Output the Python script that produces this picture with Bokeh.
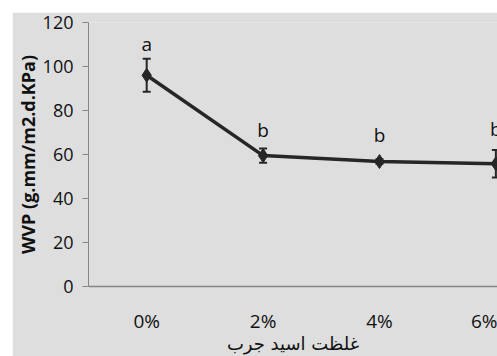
from bokeh.plotting import figure
from bokeh.models import ColumnDataSource, Whisker, FixedTicker, Spacer, TeeHead
from bokeh.layouts import column, row
from bokeh.embed import file_html
from bokeh.resources import INLINE
from bokeh.core.properties import value

categories = ["0%", "2%", "4%", "6%"]
wvp = [96.0, 59.5, 56.8, 55.8]
err = [7.5, 3.2, 1.0, 6.2]
letters = ["a", "b", "b", "b"]
y_ticks = [0, 20, 40, 60, 80, 100, 120]
y_label = "WVP (g.mm/m2.d.KPa)"
x_label = "غلظت اسید جرب"

BG = "#dedede"
AX = "#868686"
DARK = "#262626"

xs = [i + 0.5 for i in range(len(categories))]
src = ColumnDataSource(dict(
    x=xs, y=wvp,
    upper=[v + e for v, e in zip(wvp, err)],
    lower=[v - e for v, e in zip(wvp, err)],
    txt=letters,
    yoff=[-15, -19, -24, -21],
))

p = figure(width=485, height=344, x_range=(0, 3.514), y_range=(0, 120),
           output_backend="svg", toolbar_location=None,
           min_border_left=75, min_border_top=10, min_border_bottom=70,
           min_border_right=0)
p.background_fill_color = BG
p.border_fill_color = BG
p.outline_line_color = None
p.grid.visible = False

# y axis
p.yaxis.ticker = FixedTicker(ticks=y_ticks)
p.yaxis.axis_line_color = AX
p.yaxis.major_tick_line_color = AX
p.yaxis.minor_tick_line_color = None
p.yaxis.major_tick_out = 6
p.yaxis.major_tick_in = 0
p.yaxis.major_label_standoff = 9
p.yaxis.major_label_text_font = "Open Sans"
p.yaxis.major_label_text_font_size = "18px"
p.yaxis.major_label_text_color = "#111111"
p.yaxis.axis_label = y_label
p.yaxis.axis_label_standoff = 0
p.yaxis.axis_label_text_font = "Open Sans"
p.yaxis.axis_label_text_font_style = "bold"
p.yaxis.axis_label_text_font_size = "18px"
p.yaxis.axis_label_text_color = "#111111"

# x axis
p.xaxis.ticker = FixedTicker(ticks=xs)
p.xaxis.major_label_overrides = {x: c for x, c in zip(xs, categories)}
p.xaxis.axis_line_color = AX
p.xaxis.axis_line_width = 1.5
p.xaxis.major_tick_line_color = None
p.xaxis.minor_tick_line_color = None
p.xaxis.major_tick_out = 0
p.xaxis.major_tick_in = 0
p.xaxis.major_label_standoff = 21
p.xaxis.major_label_text_font = "Open Sans"
p.xaxis.major_label_text_font_size = "19px"
p.xaxis.major_label_text_color = "#111111"
p.xaxis.axis_label = x_label
p.xaxis.axis_label_standoff = -4
p.xaxis.axis_label_text_font = "DejaVu Sans"
p.xaxis.axis_label_text_font_style = "normal"
p.xaxis.axis_label_text_font_size = "18px"
p.xaxis.axis_label_text_color = "#111111"

p.line("x", "y", source=src, line_color=DARK, line_width=3.5)
p.add_layout(Whisker(source=src, base="x", upper="upper", lower="lower",
                     line_color=DARK, line_width=2,
                     upper_head=TeeHead(size=8, line_color=DARK, line_width=2),
                     lower_head=TeeHead(size=8, line_color=DARK, line_width=2)))
p.scatter("x", "y", source=src, marker="diamond", size=14,
          fill_color=DARK, line_color=DARK)
p.text("x", "upper", text="txt", source=src, y_offset="yoff",
       text_align="center", text_baseline="middle",
       text_font=value("Open Sans"), text_font_size="19px", text_color="#111111")

layout = column(Spacer(height=12, width=497),
                row(Spacer(width=12, height=344), p))
html = file_html(layout, INLINE)
html = html.replace("<head>", "<head><style>html,body{margin:0;padding:0;background:#ffffff;}</style>", 1)
open("out.html", "w").write(html)
